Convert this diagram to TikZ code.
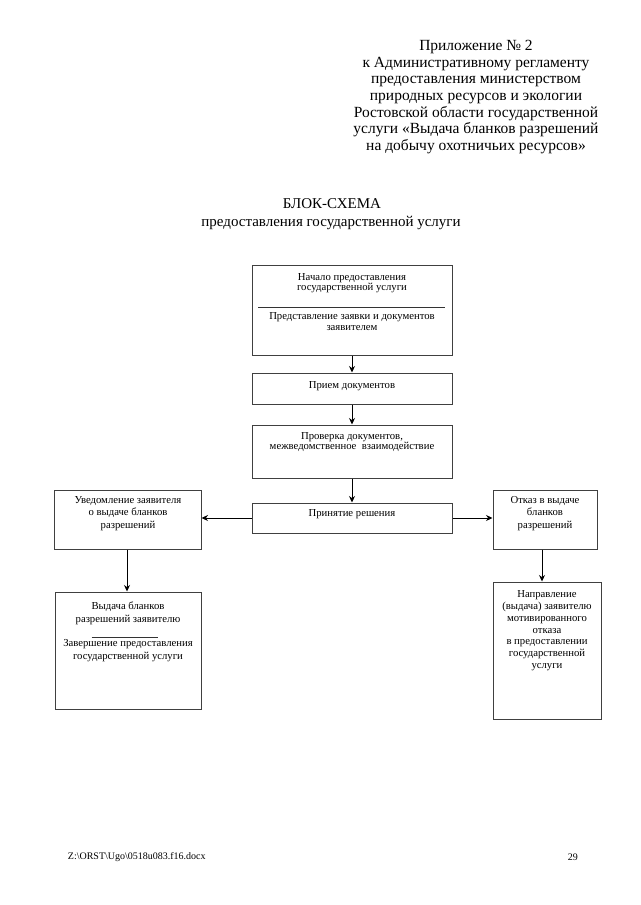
\documentclass[tikz,border=0pt]{standalone}
\usepackage{fontspec}
\setmainfont{Liberation Serif}
\usetikzlibrary{arrows.meta}
\begin{document}
\begin{tikzpicture}[x=1pt,y=-1pt,
  box/.style={draw=black!75,line width=1pt,minimum width=#1,inner sep=0pt},
  conn/.style={draw=black,line width=0.9pt,-{Stealth[length=6.5pt,width=6pt]}},
  plain/.style={draw=black,line width=0.8pt},
  txt/.style={align=center,inner sep=0pt,font=\fontsize{10.7}{#1}\selectfont},
  sep/.style={draw=black!80,line width=0.6pt}]
\useasboundingbox (0,0) rectangle (640,905);
% header
\node[align=center,inner sep=0pt,font=\fontsize{15.5}{16.7}\selectfont] (hdr) at (476,97)
 {Приложение № 2\\к Административному регламенту\\предоставления министерством\\природных ресурсов и экологии\\Ростовской области государственной\\услуги «Выдача бланков разрешений\\на добычу охотничьих ресурсов»};
\node[inner sep=0pt,font=\fontsize{15}{16}\selectfont,anchor=base] (t1) at (332,208.5) {БЛОК-СХЕМА};
\node[inner sep=0pt,font=\fontsize{15}{16}\selectfont,anchor=base] (t2) at (331,226) {предоставления государственной услуги};
% boxes
\node[box=200pt,minimum height=90pt] (b1) at (352,310) {};
\node[box=200pt,minimum height=31pt] (b2) at (352,388.5) {};
\node[box=200pt,minimum height=53pt] (b3) at (352,451.5) {};
\node[box=200pt,minimum height=30pt] (b4) at (352,518) {};
\node[box=147pt,minimum height=59pt] (l1) at (127.5,519.5) {};
\node[box=104pt,minimum height=59pt] (r1) at (545,519.5) {};
\node[box=146pt,minimum height=117pt] (l2) at (128,650.5) {};
\node[box=108pt,minimum height=137pt] (r2) at (547,650.5) {};
% texts
\node[txt=10.6] (b1a) at (352,283) {Начало предоставления\\государственной услуги};
\coordinate (s1a) at (258,307.3);
\coordinate (s1b) at (445,307.3);
\draw[sep] (s1a) -- (s1b);
\node[txt=11] (b1b) at (352,321.2) {Представление заявки и документов\\заявителем};
\node[txt=11] (b2a) at (352,385.7) {Прием документов};
\node[txt=10.6] (b3a) at (352,442) {Проверка документов,\\межведомственное\ \ взаимодействие};
\node[txt=11] (b4a) at (352,514) {Принятие решения};
\node[txt=12.7] (l1a) at (128,513.5) {Уведомление заявителя\\о выдаче бланков\\разрешений};
\node[txt=12.9] (r1a) at (545,513.5) {Отказ в выдаче\\бланков\\разрешений};
\node[txt=13.3] (l2a) at (128,613.3) {Выдача бланков\\разрешений заявителю};
\coordinate (s2a) at (91.7,637.3);
\coordinate (s2b) at (158.3,637.3);
\draw[sep] (s2a) -- (s2b);
\node[txt=12.7] (l2b) at (128,650.3) {Завершение предоставления\\государственной услуги};
\node[txt=11.8] (r2a) at (547,630.7) {Направление\\(выдача) заявителю\\мотивированного\\отказа\\в предоставлении\\государственной\\услуги};
% connectors
\draw[conn] (b1.south) -- (b2.north);
\draw[conn] (b2.south) -- (b3.north);
\draw[conn] (b3.south) -- (b4.north);
\draw[conn] (b4.west) -- (l1.east |- b4.west);
\draw[conn] (b4.east) -- (r1.west |- b4.east);
\draw[conn] ([xshift=-0.5pt]l1.south) -- ([xshift=-0.5pt]l1.south |- l2.north);
\draw[conn] ([xshift=-3pt]r1.south) -- ([xshift=-3pt]r1.south |- r2.north);
% footer
\node[inner sep=0pt,font=\fontsize{10}{11}\selectfont,anchor=west] (ft) at (67.7,857) {Z:\textbackslash ORST\textbackslash Ugo\textbackslash 0518u083.f16.docx};
\node[inner sep=0pt,font=\fontsize{10}{11}\selectfont,anchor=east] (pg) at (578,857) {29};
\end{tikzpicture}
\end{document}
